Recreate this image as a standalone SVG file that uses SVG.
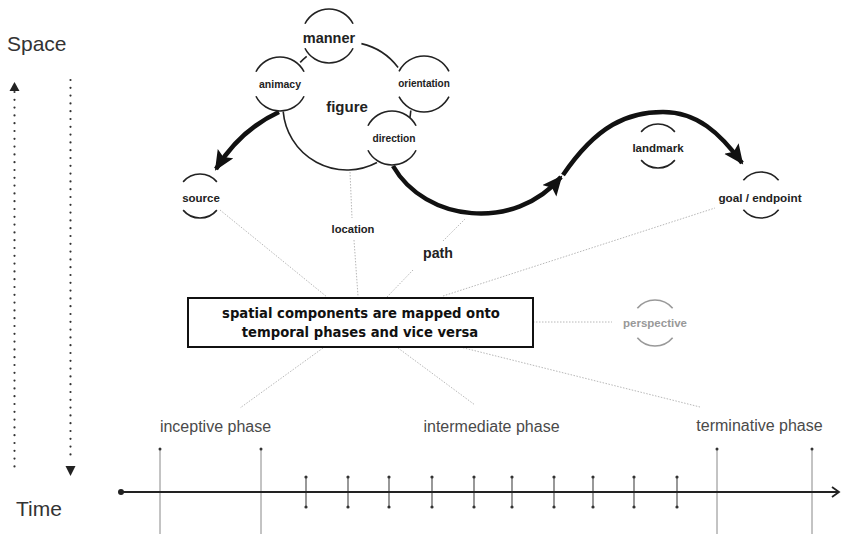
<svg xmlns="http://www.w3.org/2000/svg" width="841" height="534" viewBox="0 0 841 534">
  <style>
    .lbl { font-family: "Liberation Sans", Arial, sans-serif; font-weight: bold; fill: #222; text-anchor: middle; }
    .ring { fill: #fff; stroke: #222; stroke-width: 1.6; }
    .sub { stroke-dasharray: 0 27 126 54 126 27; }
    .open { fill: none; stroke: #222; stroke-width: 1.6; stroke-dasharray: 0 40 100 80 100 40; }
    .fig { fill: none; stroke: #222; stroke-width: 1.6; }
    .thick { fill: none; stroke: #111; stroke-width: 4.5; }
    .thin { fill: none; stroke: #b8b8b8; stroke-width: 1; stroke-dasharray: 1.5 1.5; }
    .phase { font-family: "Liberation Sans", Arial, sans-serif; font-size: 16px; fill: #4a4a4a; text-anchor: middle; }
    .axis-lbl { font-family: "Liberation Sans", Arial, sans-serif; font-size: 21px; fill: #333; }
    .tall { stroke: #888; stroke-width: 1; }
    .tick { stroke: #444; stroke-width: 1.1; }
    .dotv { fill: none; stroke: #333; stroke-width: 2.2; stroke-linecap: round; stroke-dasharray: 0 7.8; }
  </style>
  <defs>
    <marker id="head" markerUnits="userSpaceOnUse" markerWidth="22" markerHeight="20" refX="18" refY="9" orient="auto">
      <path d="M0,0 L20,9 L0,18 L4,9 z" fill="#111"/>
    </marker>
    <marker id="chev" markerUnits="userSpaceOnUse" markerWidth="10" markerHeight="12" refX="8" refY="6" orient="auto">
      <path d="M1,1 L8,6 L1,11" fill="none" stroke="#222" stroke-width="1.8"/>
    </marker>
  </defs>

  <!-- axis titles -->
  <text class="axis-lbl" x="7" y="51">Space</text>
  <text class="axis-lbl" x="16" y="516">Time</text>

  <!-- dotted space/time arrows -->
  <g id="space-time-arrows">
    <line class="dotv" x1="14.5" y1="92" x2="14.5" y2="468"/>
    <path d="M9.5,91 L14.5,82 L19.5,91 z" fill="#222"/>
    <line class="dotv" x1="70.5" y1="80" x2="70.5" y2="462"/>
    <path d="M65.5,466 L70.5,476 L75.5,466 z" fill="#222"/>
  </g>

  <!-- connectors -->
  <g id="connectors">
    <line class="thin" x1="220" y1="210" x2="327" y2="297"/>
    <line class="thin" x1="350" y1="172" x2="352" y2="218"/>
    <line class="thin" x1="354" y1="240" x2="358" y2="296"/>
    <line class="thin" x1="387" y1="297" x2="413" y2="270"/>
    <line class="thin" x1="443" y1="241" x2="465" y2="219"/>
    <line class="thin" x1="443" y1="296" x2="715" y2="208"/>
    <line class="thin" x1="533" y1="322" x2="612" y2="322"/>
    <line class="thin" x1="323" y1="348" x2="240" y2="408"/>
    <line class="thin" x1="398" y1="348" x2="475" y2="405"/>
    <line class="thin" x1="460" y1="347" x2="700" y2="407"/>

    <path class="thick" d="M279,112 Q240,130 216,169" marker-end="url(#head)"/>
    <path class="thick" d="M393,166 C425,222 515,232 561,177" marker-end="url(#head)"/>
    <path class="thick" d="M563,175 C597,125 628,112 663,112 C697,112 720,133 742,163" marker-end="url(#head)"/>
  </g>

  <!-- figure: large circle partly hidden by its attribute circles -->
  <g id="figure">
    <path class="fig" d="M300.2,62.4 A64,64 0 0 1 306.7,56.3"/>
    <path class="fig" d="M361.4,43.6 A64,64 0 0 1 398.1,67.5"/>
    <path class="fig" d="M410.8,110.5 A64,64 0 0 1 409.6,119.3"/>
    <path class="fig" d="M377,162.5 A64,64 0 0 1 283.2,111.6"/>
    <text class="lbl" x="347" y="112" font-size="15">figure</text>
  </g>

  <g id="manner">
    <circle class="ring sub" cx="329" cy="36" r="27" pathLength="360"/>
    <text class="lbl" x="329" y="43" font-size="14.5">manner</text>
  </g>
  <g id="animacy">
    <circle class="ring sub" cx="280" cy="84" r="27" pathLength="360"/>
    <text class="lbl" x="280" y="88" font-size="10.5">animacy</text>
  </g>
  <g id="orientation">
    <circle class="ring sub" cx="424" cy="84" r="28" pathLength="360"/>
    <text class="lbl" x="424" y="87" font-size="10">orientation</text>
  </g>
  <g id="direction">
    <circle class="ring sub" cx="392" cy="138" r="27" pathLength="360"/>
    <text class="lbl" x="394" y="142" font-size="10.2">direction</text>
  </g>

  <g id="source">
    <circle class="open" cx="200" cy="196" r="22" pathLength="360"/>
    <text class="lbl" x="201" y="202" font-size="11.5">source</text>
  </g>
  <g id="landmark">
    <circle class="open" cx="658" cy="146" r="22" pathLength="360"/>
    <text class="lbl" x="658" y="152" font-size="11.5">landmark</text>
  </g>
  <g id="goal">
    <circle class="open" cx="761" cy="195" r="23" pathLength="360"/>
    <text class="lbl" x="760" y="202" font-size="11.7">goal / endpoint</text>
  </g>
  <g id="perspective">
    <circle class="open" cx="655" cy="323" r="23" pathLength="360" style="stroke:#999"/>
    <text class="lbl" x="655" y="327" font-size="11.5" style="fill:#999">perspective</text>
  </g>

  <g id="location">
    <text class="lbl" x="353" y="233" font-size="11.2">location</text>
  </g>
  <g id="path">
    <text class="lbl" x="438" y="258" font-size="14.2">path</text>
  </g>

  <g id="mapping-box">
    <rect x="188" y="298" width="345" height="49" fill="#fff" stroke="#111" stroke-width="2"/>
    <text x="361" y="318" font-family="'DejaVu Sans', Verdana, sans-serif" font-weight="bold" font-size="13.2" fill="#111" text-anchor="middle">spatial components are mapped onto</text>
    <text x="360" y="337" font-family="'DejaVu Sans', Verdana, sans-serif" font-weight="bold" font-size="13.2" fill="#111" text-anchor="middle">temporal phases and vice versa</text>
  </g>

  <!-- phases -->
  <g id="inceptive-phase"><text class="phase" x="215.5" y="432">inceptive phase</text></g>
  <g id="intermediate-phase"><text class="phase" x="491.5" y="432">intermediate phase</text></g>
  <g id="terminative-phase"><text class="phase" x="759.5" y="431">terminative phase</text></g>

  <!-- timeline -->
  <g id="timeline">
    <line class="tall" x1="160" y1="449" x2="160" y2="534"/>
    <line class="tall" x1="261" y1="449" x2="261" y2="534"/>
    <line class="tall" x1="717" y1="449" x2="717" y2="534"/>
    <line class="tall" x1="812" y1="449" x2="812" y2="534"/>
    <g fill="#333">
      <circle cx="160" cy="449" r="1.5"/>
      <circle cx="261" cy="449" r="1.5"/>
      <circle cx="717" cy="449" r="1.5"/>
      <circle cx="812" cy="449" r="1.5"/>
    </g>
    <g>
      <line class="tick" x1="306" y1="477" x2="306" y2="507"/>
      <line class="tick" x1="348" y1="477" x2="348" y2="507"/>
      <line class="tick" x1="389" y1="477" x2="389" y2="507"/>
      <line class="tick" x1="432" y1="477" x2="432" y2="507"/>
      <line class="tick" x1="474" y1="477" x2="474" y2="507"/>
      <line class="tick" x1="512" y1="477" x2="512" y2="507"/>
      <line class="tick" x1="554" y1="477" x2="554" y2="507"/>
      <line class="tick" x1="593" y1="477" x2="593" y2="507"/>
      <line class="tick" x1="634" y1="477" x2="634" y2="507"/>
      <line class="tick" x1="677" y1="477" x2="677" y2="507"/>
    </g>
    <g fill="#333">
      <circle cx="306" cy="477" r="1.6"/><circle cx="306" cy="507" r="1.6"/>
      <circle cx="348" cy="477" r="1.6"/><circle cx="348" cy="507" r="1.6"/>
      <circle cx="389" cy="477" r="1.6"/><circle cx="389" cy="507" r="1.6"/>
      <circle cx="432" cy="477" r="1.6"/><circle cx="432" cy="507" r="1.6"/>
      <circle cx="474" cy="477" r="1.6"/><circle cx="474" cy="507" r="1.6"/>
      <circle cx="512" cy="477" r="1.6"/><circle cx="512" cy="507" r="1.6"/>
      <circle cx="554" cy="477" r="1.6"/><circle cx="554" cy="507" r="1.6"/>
      <circle cx="593" cy="477" r="1.6"/><circle cx="593" cy="507" r="1.6"/>
      <circle cx="634" cy="477" r="1.6"/><circle cx="634" cy="507" r="1.6"/>
      <circle cx="677" cy="477" r="1.6"/><circle cx="677" cy="507" r="1.6"/>
    </g>
    <line x1="121" y1="492" x2="839" y2="492" stroke="#222" stroke-width="2" marker-end="url(#chev)"/>
    <circle cx="121" cy="492" r="3" fill="#222"/>
  </g>
</svg>
